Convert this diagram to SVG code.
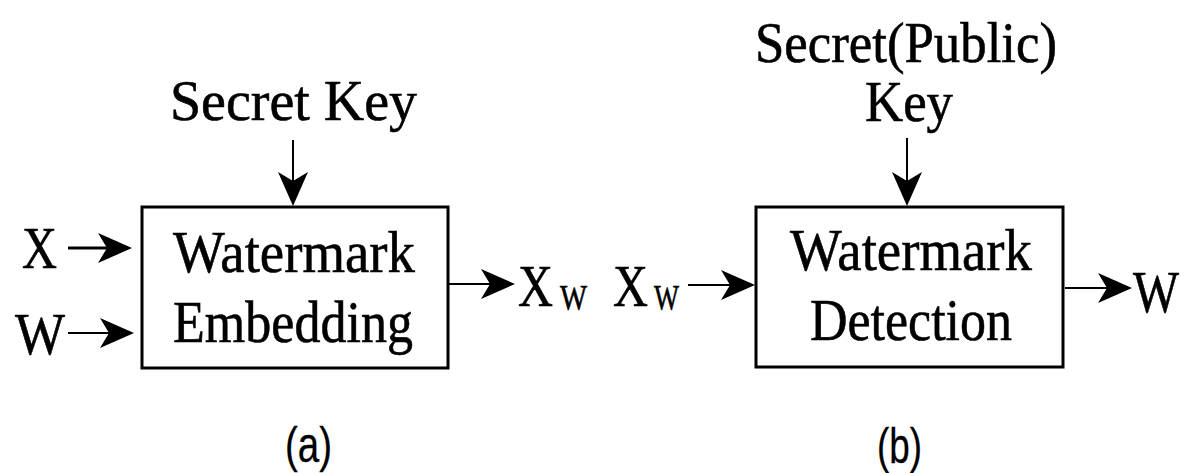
<svg xmlns="http://www.w3.org/2000/svg" width="1186" height="473" viewBox="0 0 1186 473">
  <defs>
    <!-- barbed arrowhead; tip sits 10px past the end of the line -->
    <marker id="arrow" markerUnits="userSpaceOnUse" orient="auto" refX="-10" refY="0" overflow="visible">
      <path d="M0,0 L-34,-15 L-25,0 L-34,15 Z" fill="#000"/>
    </marker>
  </defs>
  <style>
    .box { fill: #fff; stroke: #000; stroke-width: 3; }
    text { stroke: #000; stroke-width: 0.6; fill: #000; }
    .label { font-family: "Liberation Serif", "Times New Roman", serif; font-size: 60px; }
    .key { font-family: "Liberation Serif", "Times New Roman", serif; font-size: 57px; }
    .sub { font-size: 35px; }
    .cap { font-family: "Liberation Sans", Arial, sans-serif; font-size: 50px; stroke-width: 0.3; }
    .wire { stroke: #000; stroke-width: 2; fill: none; marker-end: url(#arrow); }
    .wire.bold { stroke-width: 3; }
  </style>

  <!-- (a) embedding -->
  <g id="embed">
    <rect class="box" x="142" y="207" width="306" height="161"/>
    <text class="label" x="173" y="272" textLength="242" lengthAdjust="spacingAndGlyphs">Watermark</text>
    <text class="label" x="173" y="342" textLength="240" lengthAdjust="spacingAndGlyphs">Embedding</text>
  </g>
  <g id="key-a">
    <text class="key" x="170" y="120" textLength="247" lengthAdjust="spacingAndGlyphs">Secret Key</text>
  </g>
  <g id="in-x">
    <text class="label" x="22" y="268" textLength="35" lengthAdjust="spacingAndGlyphs">X</text>
  </g>
  <g id="in-w">
    <text class="label" x="15" y="354" textLength="50" lengthAdjust="spacingAndGlyphs">W</text>
  </g>
  <g id="out-xw">
    <text class="label" x="518" y="306"><tspan textLength="35" lengthAdjust="spacingAndGlyphs">X</tspan><tspan class="sub" x="560" y="310" textLength="27" lengthAdjust="spacingAndGlyphs">W</tspan></text>
  </g>
  <g id="caption-a">
    <text class="cap" x="285" y="462" textLength="47" lengthAdjust="spacingAndGlyphs">(a)</text>
  </g>

  <!-- (b) detection -->
  <g id="detect">
    <rect class="box" x="756" y="207" width="307" height="160"/>
    <text class="label" x="790" y="270" textLength="242" lengthAdjust="spacingAndGlyphs">Watermark</text>
    <text class="label" x="810" y="340" textLength="202" lengthAdjust="spacingAndGlyphs">Detection</text>
  </g>
  <g id="key-b">
    <text class="key" x="755" y="62" textLength="302" lengthAdjust="spacingAndGlyphs">Secret(Public)</text>
    <text class="key" x="865" y="121" textLength="88" lengthAdjust="spacingAndGlyphs">Key</text>
  </g>
  <g id="in-xw">
    <text class="label" x="613" y="306"><tspan textLength="35" lengthAdjust="spacingAndGlyphs">X</tspan><tspan class="sub" x="654" y="310" textLength="25" lengthAdjust="spacingAndGlyphs">W</tspan></text>
  </g>
  <g id="out-w">
    <text class="label" x="1179" y="312" text-anchor="end" textLength="46" lengthAdjust="spacingAndGlyphs">W</text>
  </g>
  <g id="caption-b">
    <text class="cap" x="877" y="463" textLength="45" lengthAdjust="spacingAndGlyphs">(b)</text>
  </g>

  <!-- connectors -->
  <g id="connectors">
    <line class="wire bold" x1="68" y1="248" x2="122" y2="248"/>
    <line class="wire" x1="68" y1="333" x2="124" y2="333"/>
    <line class="wire" x1="293" y1="140" x2="293" y2="196"/>
    <line class="wire" x1="448" y1="284" x2="505" y2="284"/>
    <line class="wire" x1="688" y1="285" x2="745" y2="285"/>
    <line class="wire" x1="907" y1="138" x2="907" y2="196"/>
    <line class="wire" x1="1065" y1="288" x2="1122" y2="288"/>
  </g>
</svg>
